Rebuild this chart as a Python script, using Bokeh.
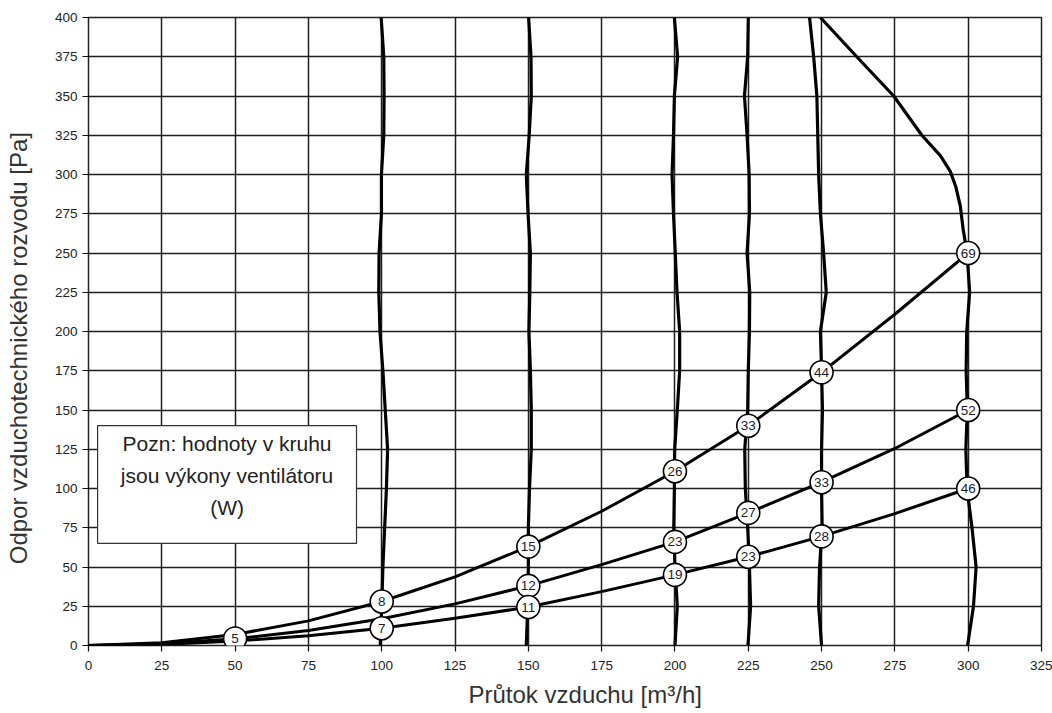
from bokeh.plotting import figure
from bokeh.models import Title, FixedTicker
from bokeh.core.properties import value
from bokeh.embed import file_html
from bokeh.resources import INLINE

# ---- data ----
x_ticks = list(range(0, 326, 25))
y_ticks = list(range(0, 401, 25))

fan_y = [0, 25, 50, 75, 100, 125, 150, 175, 200, 225, 250, 275, 300, 325, 350, 375, 400]
fan_100_x = [99.5, 100.0, 100.4, 101.0, 101.6, 102.0, 101.2, 100.4, 99.4, 99.0, 99.1, 99.9, 99.9, 100.7, 100.8, 100.7, 99.8]
fan_150_x = [149.3, 149.8, 150.0, 150.0, 150.4, 151.0, 151.0, 150.7, 150.2, 150.5, 150.7, 149.9, 149.3, 150.3, 151.0, 150.9, 150.1]
fan_200_x = [200.0, 200.8, 200.0, 199.6, 199.8, 199.9, 200.8, 201.6, 201.6, 200.7, 200.1, 199.5, 199.0, 199.5, 199.8, 200.9, 199.8]
fan_225_x = [224.9, 225.8, 225.4, 224.8, 224.0, 223.8, 224.8, 225.0, 225.4, 225.5, 224.6, 225.4, 225.3, 224.6, 223.7, 224.8, 225.0]
fan_250_x = [250.0, 249.0, 249.3, 250.2, 250.0, 250.0, 250.3, 250.0, 249.6, 251.6, 250.7, 249.6, 249.0, 248.7, 248.4, 247.3, 245.9]
fan_300_x = [299.8, 301.8, 302.7, 301.3, 299.6, 299.2, 299.7, 299.3, 299.5, 300.5, 299.6, 298.3, 297.3, 295.8, 293.9, 290.5, 284.2, 274.6, 262.0, 249.6]
fan_300_y = [0, 25, 50, 75, 100, 125, 150, 175, 200, 225, 250, 265, 280, 292, 302, 312, 325, 350, 375, 400]

sys_x = [0, 25, 50, 75, 100, 125, 150, 175, 200, 225, 250, 275, 300]
sys_a = [0, 1.8, 7, 15.7, 28, 43.7, 63, 85.5, 111, 140, 174, 211, 250]
sys_b = [0, 1.1, 4.3, 9.5, 17, 26.5, 38, 51.5, 66, 84.5, 104, 125.5, 150]
sys_c = [0, 0.7, 2.8, 6.2, 11, 17.3, 24.5, 34.3, 45, 56.5, 69.5, 84, 100]

circ_x = [50, 100, 100, 150, 150, 150, 200, 200, 200, 225, 225, 225, 250, 250, 250, 300, 300, 300]
circ_y = [4.5, 28, 11, 63, 38, 24.5, 111, 66, 45, 140, 84.5, 56.5, 174, 104, 69.5, 250, 150, 100]
circ_txt = ["5", "8", "7", "15", "12", "11", "26", "23", "19", "33", "27", "23", "44", "33", "28", "69", "52", "46"]

note_lines = ["Pozn: hodnoty v kruhu", "jsou výkony ventilátoru", "(W)"]
note_line_y = [128.7, 108.3, 87.9]
note_box = dict(left=3.1, right=91.4, bottom=65, top=140)

x_label = "Průtok vzduchu [m³/h]"
y_label = "Odpor vzduchotechnického rozvodu [Pa]"

FONT = "Liberation Sans"

p = figure(width=1052, height=713, x_range=(0, 325), y_range=(0, 400),
           output_backend="svg", toolbar_location=None,
           min_border_left=88, min_border_right=11, min_border_top=17, min_border_bottom=68)
p.outline_line_color = "#222222"
p.outline_line_width = 1.5

for ax in (p.xaxis[0], p.yaxis[0]):
    ax.axis_line_color = None
    ax.major_tick_line_color = "#111111"
    ax.major_tick_line_width = 1.2
    ax.major_tick_out = 6
    ax.major_tick_in = 0
    ax.minor_tick_line_color = None
    ax.major_label_text_font = FONT
    ax.major_label_text_font_size = "13.5px"
    ax.major_label_text_color = "#222222"
p.xaxis.ticker = FixedTicker(ticks=x_ticks)
p.yaxis.ticker = FixedTicker(ticks=y_ticks)
p.xaxis.major_label_standoff = 9
p.yaxis.major_label_standoff = 5

p.xgrid.ticker = FixedTicker(ticks=x_ticks)
p.ygrid.ticker = FixedTicker(ticks=y_ticks)
for g in (p.xgrid[0], p.ygrid[0]):
    g.grid_line_color = "#1f1f1f"
    g.grid_line_width = 1.5

# fan characteristic curves
for fx, fy in [(fan_100_x, fan_y), (fan_150_x, fan_y), (fan_200_x, fan_y),
               (fan_225_x, fan_y), (fan_250_x, fan_y), (fan_300_x, fan_300_y)]:
    p.line(fx, fy, line_color="black", line_width=3.2, line_join="round")

# system curves
for sy in (sys_a, sys_b, sys_c):
    p.line(sys_x, sy, line_color="black", line_width=3, line_join="round")

# circles with fan power
p.scatter(circ_x, circ_y, marker="circle", size=23, fill_color="white",
          line_color="black", line_width=1.6)
p.text(circ_x, circ_y, text=circ_txt, text_align="center", text_baseline="middle",
       text_font=value(FONT), text_font_size="13.5px", text_color="#1c1c2a")

# note box
p.quad(left=[note_box["left"]], right=[note_box["right"]], bottom=[note_box["bottom"]],
       top=[note_box["top"]], fill_color="white", line_color="#333333", line_width=1.2)
note_x = (note_box["left"] + note_box["right"]) / 2
p.text([note_x] * len(note_lines), note_line_y, text=note_lines, text_align="center",
       text_baseline="middle", text_font=value(FONT), text_font_size="21px",
       text_color="#222222")

# x axis title (shifted right along the axis as in the reference)
p.add_layout(Title(text=x_label, align="left", offset=380, standoff=12,
                   text_font=FONT, text_font_size="24px", text_font_style="normal",
                   text_color="#333333"), "below")

# y axis title (sits a little below the frame centre in the reference)
p.yaxis.axis_label = y_label + "\u00a0" * 5
p.yaxis.axis_label_standoff = 20
p.yaxis.axis_label_text_font = FONT
p.yaxis.axis_label_text_font_size = "24px"
p.yaxis.axis_label_text_font_style = "normal"
p.yaxis.axis_label_text_color = "#333333"

open("out.html", "w").write(file_html(p, INLINE))
